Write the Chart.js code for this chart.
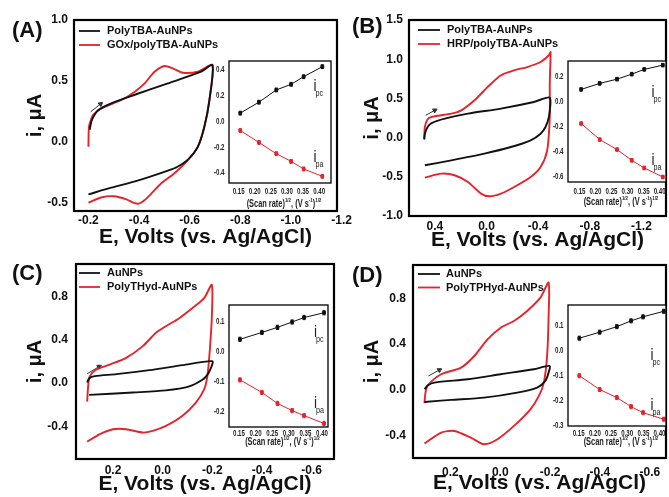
<!DOCTYPE html>
<html>
<head>
<meta charset="utf-8">
<script src="https://cdn.jsdelivr.net/npm/chart.js@4.4.1/dist/chart.umd.min.js"></script>
<style>
html, body { margin: 0; padding: 0; background: #fff; width: 669px; height: 497px; overflow: hidden; }
canvas { position: absolute; }
.tag { position: absolute; font: bold 22px 'Liberation Sans', Arial, sans-serif; line-height: 22px; color: #111; }
</style>
</head>
<body>
<canvas id="cvA" width="352" height="250" style="left:0px;top:0px"></canvas>
<canvas id="cvB" width="336" height="256" style="left:335px;top:0px"></canvas>
<canvas id="cvC" width="339" height="247" style="left:0px;top:250px"></canvas>
<canvas id="cvD" width="336" height="247" style="left:335px;top:250px"></canvas>
<canvas id="inA" width="131" height="160" style="left:205px;top:51px"></canvas>
<canvas id="inB" width="127" height="160" style="left:544px;top:51px"></canvas>
<canvas id="inC" width="128" height="160" style="left:205px;top:295px"></canvas>
<canvas id="inD" width="127" height="160" style="left:544px;top:295px"></canvas>
<div class="tag" style="left:12px;top:19px">(A)</div>
<div class="tag" style="left:352px;top:15px">(B)</div>
<div class="tag" style="left:12px;top:262px">(C)</div>
<div class="tag" style="left:352px;top:264px">(D)</div>
<script>
// ---- panel A : cyclic voltammograms
const aBlackE = [-0.205, -0.212, -0.222, -0.238, -0.29, -0.38, -0.514, -0.645, -0.69, -0.678, -0.658, -0.632, -0.593, -0.55, -0.514, -0.45, -0.38, -0.29, -0.2];
const aBlackI = [0.10, 0.17, 0.215, 0.26, 0.317, 0.385, 0.48, 0.576, 0.63, 0.344, 0.125, -0.04, -0.145, -0.205, -0.235, -0.28, -0.325, -0.375, -0.43];
const aRedE = [-0.2, -0.202, -0.21, -0.218, -0.251, -0.33, -0.382, -0.422, -0.461, -0.5, -0.533, -0.573, -0.632, -0.69, -0.678, -0.658, -0.632, -0.593, -0.54, -0.487, -0.45, -0.42, -0.4, -0.38, -0.35, -0.3, -0.25, -0.2];
const aRedI = [-0.04, 0.125, 0.18, 0.22, 0.276, 0.344, 0.41, 0.48, 0.576, 0.623, 0.604, 0.568, 0.576, 0.63, 0.344, 0.125, -0.04, -0.148, -0.256, -0.34, -0.42, -0.48, -0.505, -0.5, -0.47, -0.445, -0.455, -0.497];
const aArrowE = [-0.209, -0.248];
const aArrowI = [0.248, 0.311];
const aTicksX = [-0.2, -0.4, -0.6, -0.8, -1.0, -1.2];
const aTicksY = [-0.5, 0, 0.5, 1.0];

// ---- panel B
const bBlackE = [0.482, 0.477, 0.456, 0.425, 0.323, 0.144, -0.112, -0.367, -0.49, -0.483, -0.457, -0.419, -0.342, -0.189, 0.016, 0.272, 0.477];
const bBlackI = [-0.02, 0.05, 0.135, 0.185, 0.242, 0.306, 0.37, 0.454, 0.51, 0.263, 0.135, 0.05, -0.034, -0.12, -0.204, -0.29, -0.353];
const bRedE = [0.482, 0.477, 0.451, 0.4, 0.272, 0.195, 0.093, -0.009, -0.112, -0.214, -0.316, -0.419, -0.483, -0.496, -0.49, -0.49, -0.47, -0.419, -0.342, -0.214, -0.112, -0.022, 0.042, 0.144, 0.247, 0.349, 0.477];
const bRedI = [-0.026, 0.135, 0.242, 0.272, 0.306, 0.348, 0.476, 0.645, 0.795, 0.858, 0.9, 0.964, 1.05, 1.09, 0.689, 0.263, -0.162, -0.375, -0.502, -0.63, -0.715, -0.749, -0.715, -0.566, -0.48, -0.46, -0.51];
const bArrowE = [0.471, 0.4];
const bArrowI = [0.284, 0.348];
const bTicksX = [0.4, 0, -0.4, -0.8, -1.2];
const bTicksY = [-1.0, -0.5, 0, 0.5, 1.0, 1.5];

// ---- panel C
const cBlackE = [0.304, 0.296, 0.273, 0.186, 0.053, -0.08, -0.2, -0.194, -0.18, -0.16, -0.107, -0.013, 0.12, 0.296];
const cBlackI = [0.006, 0.046, 0.065, 0.083, 0.12, 0.166, 0.203, 0.138, 0.077, 0.031, -0.03, -0.067, -0.086, -0.108];
const cRedE = [0.304, 0.3, 0.293, 0.267, 0.213, 0.147, 0.08, 0.027, -0.013, -0.067, -0.12, -0.167, -0.198, -0.198, -0.19, -0.18, -0.167, -0.133, -0.08, -0.013, 0.04, 0.08, 0.147, 0.2, 0.253, 0.304];
const cRedI = [-0.17, -0.027, 0.065, 0.126, 0.172, 0.234, 0.342, 0.465, 0.526, 0.6, 0.693, 0.785, 0.908, 0.615, 0.308, 0.065, -0.058, -0.181, -0.3, -0.394, -0.44, -0.456, -0.425, -0.425, -0.47, -0.54];
const cArrowE = [0.304, 0.256];
const cArrowI = [0.086, 0.153];
const cTicksX = [0.2, 0, -0.2, -0.4, -0.6];
const cTicksY = [-0.4, 0, 0.4, 0.8];

// ---- panel D
const dBlackE = [0.304, 0.29, 0.264, 0.131, -0.002, -0.135, -0.198, -0.194, -0.181, -0.148, -0.068, 0.065, 0.197, 0.304];
const dBlackI = [0.006, 0.041, 0.064, 0.093, 0.137, 0.18, 0.209, 0.151, 0.079, 0.021, -0.023, -0.067, -0.087, -0.105];
const dRedE = [0.304, 0.3, 0.29, 0.237, 0.157, 0.104, 0.051, -0.002, -0.055, -0.108, -0.161, -0.194, -0.194, -0.188, -0.175, -0.155, -0.121, -0.055, 0.011, 0.065, 0.118, 0.184, 0.237, 0.304];
const dRedI = [-0.116, -0.023, 0.041, 0.137, 0.195, 0.296, 0.441, 0.543, 0.602, 0.689, 0.805, 0.936, 0.645, 0.297, 0.064, -0.052, -0.169, -0.314, -0.43, -0.474, -0.416, -0.358, -0.372, -0.468];
const dArrowE = [0.288, 0.244];
const dArrowI = [0.122, 0.174];
const dTicksX = [0.2, 0, -0.2, -0.4, -0.6];
const dTicksY = [-0.4, 0, 0.4, 0.8];

// ---- insets: peak current vs (scan rate)^1/2
const insTicksX = [0.15, 0.20, 0.25, 0.30, 0.35, 0.40];
const insAx = [0.155, 0.213, 0.267, 0.313, 0.352, 0.41];
const insApc = [0.065, 0.15, 0.245, 0.289, 0.348, 0.426];
const insApa = [-0.07, -0.163, -0.25, -0.31, -0.369, -0.426];
const insAerr = [0.015, 0.015, 0.015, 0.015, 0.015, 0.015];
const insAticksY = [-0.4, -0.2, 0, 0.2, 0.4];
const insBx = [0.155, 0.213, 0.267, 0.313, 0.352, 0.41];
const insBpc = [0.099, 0.147, 0.181, 0.221, 0.259, 0.293];
const insBpa = [-0.173, -0.301, -0.381, -0.467, -0.528, -0.6];
const insBerr = [0.014, 0.014, 0.014, 0.014, 0.014, 0.014];
const insBticksY = [-0.6, -0.4, -0.2, 0, 0.2];
const insCx = [0.153, 0.219, 0.266, 0.31, 0.346, 0.406];
const insCpc = [0.041, 0.064, 0.081, 0.099, 0.114, 0.13];
const insCpa = [-0.095, -0.137, -0.174, -0.198, -0.215, -0.241];
const insCerr = [0.007, 0.007, 0.007, 0.007, 0.007, 0.007];
const insCticksY = [-0.2, -0.1, 0, 0.1];
const insDx = [0.152, 0.215, 0.268, 0.312, 0.349, 0.413];
const insDpc = [0.049, 0.073, 0.095, 0.118, 0.134, 0.156];
const insDpa = [-0.1, -0.155, -0.187, -0.223, -0.247, -0.273];
const insDerr = [0.008, 0.008, 0.008, 0.008, 0.008, 0.008];
const insDticksY = [-0.3, -0.2, -0.1, 0, 0.1];

const RED = '#e4232b';
const BLACK = '#111111';
const FONT = "'Liberation Sans', Arial, sans-serif";

Chart.defaults.font.family = FONT;
Chart.defaults.color = '#111';

const pts = (xs, ys) => xs.map((x, k) => ({ x: x, y: ys[k] }));

// no narrow font installed: squeeze text horizontally through fillText's maxWidth
function squeeze(ctx, text, x, y, k) {
    ctx.fillText(text, x, y, ctx.measureText(text).width * k);
}

// frame, legend, error bars and small labels
const decor = {
    id: 'decor',
    beforeDatasetsDraw(chart, args, o) {
        if (!o.white) return;
        const a = chart.chartArea;
        chart.ctx.save();
        chart.ctx.fillStyle = '#fff';
        chart.ctx.fillRect(a.left, a.top, a.width, a.height);
        chart.ctx.restore();
    },
    afterDatasetsDraw(chart) {
        const ctx = chart.ctx;
        chart.data.datasets.forEach((ds, i) => {
            if (!ds.errors) return;
            const ys = chart.scales.y;
            ctx.save();
            ctx.strokeStyle = ds.borderColor;
            ctx.lineWidth = 1;
            chart.getDatasetMeta(i).data.forEach((p, j) => {
                const y1 = ys.getPixelForValue(ds.data[j].y + ds.errors[j]);
                const y2 = ys.getPixelForValue(ds.data[j].y - ds.errors[j]);
                ctx.beginPath();
                ctx.moveTo(p.x, y1); ctx.lineTo(p.x, y2);
                ctx.moveTo(p.x - 1.5, y1); ctx.lineTo(p.x + 1.5, y1);
                ctx.moveTo(p.x - 1.5, y2); ctx.lineTo(p.x + 1.5, y2);
                ctx.stroke();
            });
            ctx.restore();
        });
    },
    afterDraw(chart, args, o) {
        const ctx = chart.ctx;
        const a = chart.chartArea;
        ctx.save();
        ctx.strokeStyle = '#000';
        ctx.lineWidth = o.frame || 2;
        ctx.strokeRect(a.left, a.top, a.width, a.height);

        if (o.legend) {
            const L = o.legend;
            ctx.font = 'bold 11px ' + FONT;
            ctx.textBaseline = 'middle';
            ctx.textAlign = 'left';
            chart.data.datasets.filter(d => d.inLegend).forEach((d, k) => {
                const y = a.top + L.y0 + k * L.dy;
                ctx.strokeStyle = d.borderColor;
                ctx.lineWidth = 1.8;
                ctx.beginPath();
                ctx.moveTo(a.left + L.x0, y);
                ctx.lineTo(a.left + L.x1, y);
                ctx.stroke();
                ctx.fillStyle = '#111';
                ctx.fillText(d.label, a.left + L.tx, y);
            });
        }

        if (o.narrowTicks) {
            const t = o.narrowTicks;
            ctx.fillStyle = '#222';
            ctx.font = 'bold 8.5px ' + FONT;
            ctx.textBaseline = 'middle';
            ctx.textAlign = 'center';
            chart.scales.x.ticks.forEach(tk => {
                squeeze(ctx, tk.value.toFixed(2), chart.scales.x.getPixelForValue(tk.value), a.bottom + t.dx, 0.72);
            });
            ctx.textAlign = 'right';
            chart.scales.y.ticks.forEach(tk => {
                squeeze(ctx, tk.value.toFixed(1), a.left - 4.5, chart.scales.y.getPixelForValue(tk.value), 0.72);
            });
        }

        if (o.sub) {
            ctx.fillStyle = '#222';
            o.sub.forEach(s => {
                const x = a.right - s.dx;
                const y = a.top + s.dy;
                ctx.font = '16px ' + FONT;
                ctx.textAlign = 'center';
                ctx.textBaseline = 'alphabetic';
                squeeze(ctx, 'i', x, y, 0.85);
                ctx.font = '9px ' + FONT;
                ctx.textAlign = 'left';
                squeeze(ctx, s.t, x + 0.5, y + 5, 0.8);
            });
        }

        if (o.title) {
            const parts = [['(Scan rate)', 0], ['1/2', 1], [', (V s', 0], ['-1', 1], [')', 0], ['1/2', 1]];
            const big = 'bold 10px ' + FONT;
            const small = 'bold 6px ' + FONT;
            const k = 0.74;
            let w = 0;
            parts.forEach(p => { ctx.font = p[1] ? small : big; w += ctx.measureText(p[0]).width * k; });
            let x = a.left + a.width / 2 + 4 - w / 2;
            const y = a.bottom + o.title.dy;
            ctx.fillStyle = '#222';
            ctx.textAlign = 'left';
            ctx.textBaseline = 'middle';
            parts.forEach(p => {
                ctx.font = p[1] ? small : big;
                squeeze(ctx, p[0], x, p[1] ? y - 4 : y, k);
                x += ctx.measureText(p[0]).width * k;
            });
        }
        ctx.restore();
    }
};
Chart.register(decor);

function cvChart(id, p) {
    return new Chart(document.getElementById(id), {
        type: 'scatter',
        data: {
            datasets: [
                { label: p.names[0], inLegend: true, data: pts(p.blackE, p.blackI), showLine: true, borderColor: BLACK, borderWidth: 1.9, pointRadius: 0, tension: 0.25 },
                { label: p.names[1], inLegend: true, data: pts(p.redE, p.redI), showLine: true, borderColor: RED, borderWidth: 1.9, pointRadius: 0, tension: 0.25 },
                { label: '', data: pts(p.arrowE, p.arrowI), showLine: true, borderColor: '#333', borderWidth: 1,
                  pointRadius: [0, 2.6], pointStyle: 'triangle', rotation: p.arrowRot, pointBackgroundColor: '#333', pointBorderColor: '#333' }
            ]
        },
        options: {
            responsive: false,
            animation: false,
            devicePixelRatio: 1,
            events: [],
            layout: { padding: p.pad },
            plugins: {
                legend: { display: false },
                tooltip: { enabled: false },
                decor: { frame: 2.2, legend: p.legend }
            },
            scales: {
                x: {
                    type: 'linear', reverse: true, min: p.xMin, max: p.xMax,
                    grid: { display: false, drawTicks: false },
                    border: { display: false },
                    ticks: { autoSkip: false, maxRotation: 0, padding: p.xPad, color: '#111',
                             font: { size: 12, weight: 'bold' }, callback: v => v.toFixed(1) },
                    afterBuildTicks: s => { s.ticks = p.ticksX.map(v => ({ value: v })); },
                    afterFit: s => { s.height = p.xh; s.paddingLeft = 0; s.paddingRight = 0; },
                    title: { display: true, text: 'E, Volts (vs. Ag/AgCl)', color: '#111',
                             font: { size: 21, weight: 'bold', lineHeight: 1.2 }, padding: { top: 0, bottom: p.xtPad } }
                },
                y: {
                    type: 'linear', min: p.yMin, max: p.yMax,
                    grid: { display: false, drawTicks: false },
                    border: { display: false },
                    ticks: { autoSkip: false, padding: p.yPad, color: '#111',
                             font: { size: 12, weight: 'bold' }, callback: v => v.toFixed(1) },
                    afterBuildTicks: s => { s.ticks = p.ticksY.map(v => ({ value: v })); },
                    afterFit: s => { s.width = p.yw; s.paddingTop = 0; s.paddingBottom = 0; },
                    title: { display: true, text: 'i, \u03bcA', color: '#111',
                             font: { size: 20, weight: 'bold', lineHeight: 1.2 }, padding: { top: p.ytPad, bottom: 0 } }
                }
            }
        }
    });
}

function insetChart(id, p) {
    const mk = (ys, col) => ({ data: pts(p.x, ys), errors: p.err, showLine: true, borderColor: col, backgroundColor: col,
                               borderWidth: 1, pointStyle: 'rect', pointRadius: 2, pointBackgroundColor: col, pointBorderColor: col });
    return new Chart(document.getElementById(id), {
        type: 'scatter',
        data: { datasets: [mk(p.pc, BLACK), mk(p.pa, RED)] },
        options: {
            responsive: false,
            animation: false,
            devicePixelRatio: 1,
            events: [],
            layout: { padding: { left: 0, top: 10, right: 3, bottom: 0 } },
            plugins: {
                legend: { display: false },
                tooltip: { enabled: false },
                decor: { white: true, frame: 1.3, sub: p.sub, title: { dy: p.titleDy }, narrowTicks: { dx: p.tickDy } }
            },
            scales: {
                x: {
                    type: 'linear', min: p.xMin, max: p.xMax,
                    grid: { display: false, drawTicks: false },
                    border: { display: false },
                    ticks: { display: false },
                    afterBuildTicks: s => { s.ticks = insTicksX.map(v => ({ value: v })); },
                    afterFit: s => { s.height = p.xh; s.paddingLeft = 0; s.paddingRight = 0; }
                },
                y: {
                    type: 'linear', min: p.yMin, max: p.yMax,
                    grid: { display: false, drawTicks: false },
                    border: { display: false },
                    ticks: { display: false },
                    afterBuildTicks: s => { s.ticks = p.ticksY.map(v => ({ value: v })); },
                    afterFit: s => { s.width = 24; s.paddingTop = 0; s.paddingBottom = 0; }
                }
            }
        }
    });
}

cvChart('cvA', {
    names: ['PolyTBA-AuNPs', 'GOx/polyTBA-AuNPs'],
    blackE: aBlackE, blackI: aBlackI, redE: aRedE, redI: aRedI, arrowE: aArrowE, arrowI: aArrowI, arrowRot: 52,
    ticksX: aTicksX, ticksY: aTicksY, xMin: -1.182, xMax: -0.143, yMin: -0.566, yMax: 1.0,
    pad: { left: 0, top: 20, right: 15, bottom: 0 }, yw: 74, xh: 39, xPad: 2, yPad: 6, xtPad: 0, ytPad: 23,
    legend: { x0: 5, x1: 26, tx: 33, y0: 11, dy: 14 }
});
cvChart('cvB', {
    names: ['PolyTBA-AuNPs', 'HRP/polyTBA-AuNPs'],
    blackE: bBlackE, blackI: bBlackI, redE: bRedE, redI: bRedI, arrowE: bArrowE, arrowI: bArrowI, arrowRot: 62,
    ticksX: bTicksX, ticksY: bTicksY, xMin: -1.39, xMax: 0.6, yMin: -1.0, yMax: 1.5,
    pad: { left: 0, top: 20, right: 3, bottom: 0 }, yw: 74, xh: 40, xPad: 3, yPad: 6, xtPad: 3, ytPad: 25,
    legend: { x0: 9, x1: 31, tx: 38, y0: 10, dy: 14 }
});
cvChart('cvC', {
    names: ['AuNPs', 'PolyTHyd-AuNPs'],
    blackE: cBlackE, blackI: cBlackI, redE: cRedE, redI: cRedI, arrowE: cArrowE, arrowI: cArrowI, arrowRot: 59,
    ticksX: cTicksX, ticksY: cTicksY, xMin: -0.69, xMax: 0.349, yMin: -0.70, yMax: 1.10,
    pad: { left: 0, top: 14, right: 3, bottom: 0 }, yw: 76, xh: 38, xPad: 4, yPad: 8, xtPad: 0, ytPad: 23,
    legend: { x0: 3, x1: 24, tx: 31, y0: 9, dy: 14 }
});
cvChart('cvD', {
    names: ['AuNPs', 'PolyTPHyd-AuNPs'],
    blackE: dBlackE, blackI: dBlackI, redE: dRedE, redI: dRedI, arrowE: dArrowE, arrowI: dArrowI, arrowRot: 61,
    ticksX: dTicksX, ticksY: dTicksY, xMin: -0.665, xMax: 0.35, yMin: -0.594, yMax: 1.09,
    pad: { left: 0, top: 15, right: 3, bottom: 0 }, yw: 78, xh: 39, xPad: 7, yPad: 7, xtPad: 1, ytPad: 25,
    legend: { x0: 5, x1: 27, tx: 33, y0: 9, dy: 13.5 }
});

insetChart('inA', { x: insAx, pc: insApc, pa: insApa, err: insAerr, ticksY: insAticksY,
    xMin: 0.12, xMax: 0.437, yMin: -0.478, yMax: 0.47, xh: 28, tickDy: 8.4, titleDy: 21,
    sub: [{ t: 'pc', dx: 16, dy: 30 }, { t: 'pa', dx: 16, dy: 101 }] });
insetChart('inB', { x: insBx, pc: insBpc, pa: insBpa, err: insBerr, ticksY: insBticksY,
    xMin: 0.114, xMax: 0.42, yMin: -0.64, yMax: 0.326, xh: 29, tickDy: 9.3, titleDy: 20.5,
    sub: [{ t: 'pc', dx: 13, dy: 36 }, { t: 'pa', dx: 13, dy: 104 }] });
insetChart('inC', { x: insCx, pc: insCpc, pa: insCpa, err: insCerr, ticksY: insCticksY,
    xMin: 0.12, xMax: 0.418, yMin: -0.253, yMax: 0.156, xh: 28, tickDy: 6.6, titleDy: 15,
    sub: [{ t: 'pc', dx: 12.5, dy: 32 }, { t: 'pa', dx: 12.5, dy: 103 }] });
insetChart('inD', { x: insDx, pc: insDpc, pa: insDpa, err: insDerr, ticksY: insDticksY,
    xMin: 0.117, xMax: 0.42, yMin: -0.3, yMax: 0.181, xh: 29, tickDy: 7.6, titleDy: 16.5,
    sub: [{ t: 'pc', dx: 14, dy: 55 }, { t: 'pa', dx: 14, dy: 105 }] });
</script>
</body>
</html>
